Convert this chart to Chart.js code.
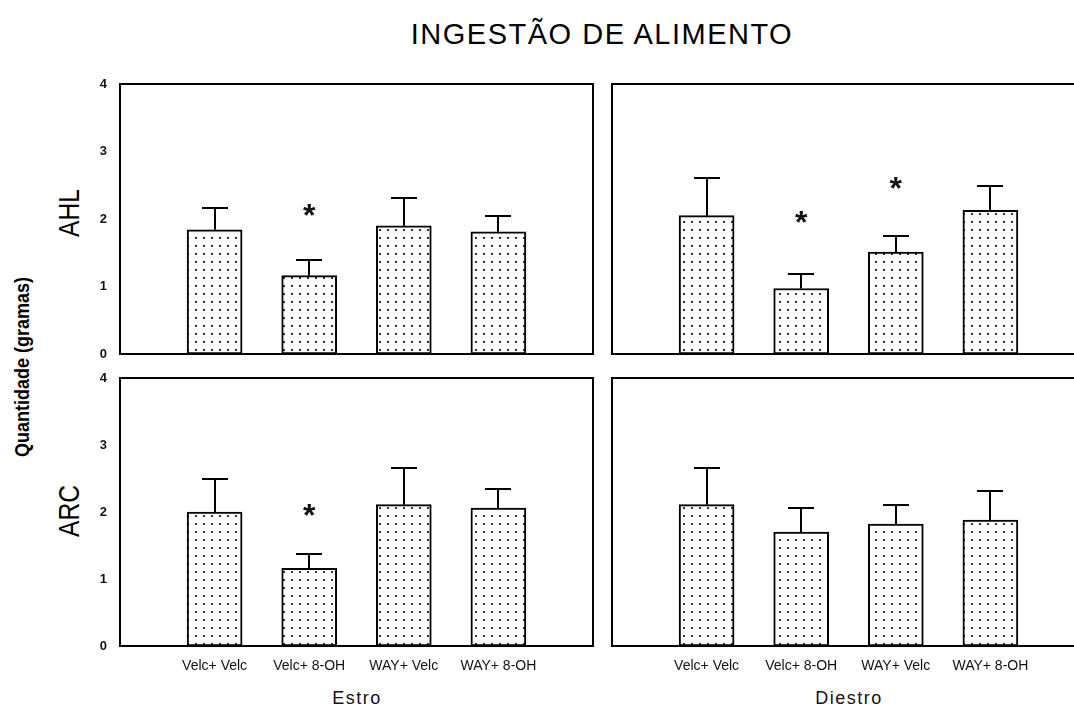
<!DOCTYPE html>
<html><head><meta charset="utf-8">
<script src="https://cdn.jsdelivr.net/npm/chart.js@4.4.0/dist/chart.umd.min.js"></script>
<style>
html,body{margin:0;padding:0;background:#fff;overflow:hidden;width:1074px;height:707px;}
#wrap{position:relative;width:1074px;height:707px;overflow:hidden;font-family:"Liberation Sans",Arial,sans-serif;color:#000;}
canvas{position:absolute;}
.t{position:absolute;white-space:nowrap;line-height:1;}
</style></head><body>
<div id="wrap">
<div class="t" style="left:602px;top:34px;font-size:29px;letter-spacing:1.5px;transform:translate(-50%,-50%);">INGESTÃO DE ALIMENTO</div>
<div class="t" style="left:69px;top:213px;font-size:30px;transform:translate(-50%,-50%) rotate(-90deg) scaleX(0.82);">AHL</div>
<div class="t" style="left:69px;top:511px;font-size:30px;transform:translate(-50%,-50%) rotate(-90deg) scaleX(0.82);">ARC</div>
<div class="t" style="left:22px;top:367px;font-size:20px;font-weight:bold;transform:translate(-50%,-50%) rotate(-90deg) scaleX(0.9);">Quantidade (gramas)</div>
<div class="t" style="left:357px;top:698px;font-size:18px;letter-spacing:1.5px;color:#111;transform:translate(-50%,-50%);">Estro</div>
<div class="t" style="left:849px;top:698px;font-size:18px;letter-spacing:1.5px;color:#111;transform:translate(-50%,-50%);">Diestro</div>
<canvas id="tl"></canvas>
<canvas id="tr"></canvas>
<canvas id="bl"></canvas>
<canvas id="br"></canvas>
</div>
<script>
// ---- data ----
const categories = ['Velc+ Velc', 'Velc+ 8-OH', 'WAY+ Velc', 'WAY+ 8-OH'];
const yTicks = [0, 1, 2, 3, 4];

const ahlEstroMean   = [1.84, 1.16, 1.90, 1.81];
const ahlEstroErrTop = [2.17, 1.39, 2.31, 2.04];
const ahlEstroStar   = [null, 2.13, null, null];

const ahlDiestroMean   = [2.05, 0.97, 1.51, 2.13];
const ahlDiestroErrTop = [2.61, 1.19, 1.75, 2.49];
const ahlDiestroStar   = [null, 2.03, 2.53, null];

const arcEstroMean   = [2.00, 1.16, 2.11, 2.06];
const arcEstroErrTop = [2.50, 1.37, 2.65, 2.35];
const arcEstroStar   = [null, 2.03, null, null];

const arcDiestroMean   = [2.11, 1.70, 1.82, 1.88];
const arcDiestroErrTop = [2.65, 2.06, 2.11, 2.32];
const arcDiestroStar   = [null, null, null, null];

// ---- rendering ----
const FAM = '"Liberation Sans", Arial, sans-serif';
const xLabels = [''].concat(categories, ['']);
const pad = a => [null].concat(a, [null]);

function dotPattern() {
  const c = document.createElement('canvas');
  c.width = 8; c.height = 8;
  const x = c.getContext('2d');
  x.fillStyle = '#fff'; x.fillRect(0, 0, 8, 8);
  x.fillStyle = '#333'; x.fillRect(3, 3, 2, 2);
  return x.createPattern(c, 'repeat');
}

function makePanel(id, box, mean, errTop, star, showY, showX) {
  const cv = document.getElementById(id);
  cv.width = box.w; cv.height = box.h;
  cv.style.left = box.x + 'px'; cv.style.top = box.y + 'px';
  cv.style.width = box.w + 'px'; cv.style.height = box.h + 'px';
  const m = pad(mean), e = pad(errTop), s = pad(star);
  const deco = {
    id: 'deco',
    afterDatasetsDraw(chart) {
      const ctx = chart.ctx, a = chart.chartArea, ys = chart.scales.y;
      const meta = chart.getDatasetMeta(0);
      ctx.save();
      ctx.strokeStyle = '#000'; ctx.lineWidth = 2; ctx.lineCap = 'butt';
      meta.data.forEach((el, i) => {
        if (e[i] == null) return;
        const x = Math.round(el.x);
        const y1 = ys.getPixelForValue(m[i]);
        const y2 = Math.round(ys.getPixelForValue(e[i]));
        ctx.beginPath();
        ctx.moveTo(x, y1); ctx.lineTo(x, y2);
        ctx.moveTo(x - 13, y2); ctx.lineTo(x + 13, y2);
        ctx.stroke();
      });
      ctx.fillStyle = '#111';
      ctx.font = 'bold 32px ' + FAM;
      ctx.textAlign = 'center'; ctx.textBaseline = 'alphabetic';
      const mt = ctx.measureText('*');
      const asc = mt.actualBoundingBoxAscent, desc = mt.actualBoundingBoxDescent;
      meta.data.forEach((el, i) => {
        if (s[i] == null) return;
        const c = ys.getPixelForValue(s[i]);
        ctx.fillText('*', el.x, c + (asc - desc) / 2);
      });
      ctx.lineWidth = 2; ctx.strokeStyle = '#000';
      ctx.strokeRect(a.left, a.top, a.right - a.left, a.bottom - a.top);
      ctx.restore();
    }
  };
  return new Chart(cv, {
    type: 'bar',
    data: {
      labels: xLabels,
      datasets: [{
        data: m,
        backgroundColor: dotPattern(),
        borderColor: '#000',
        borderWidth: 2,
        borderSkipped: false,
        barThickness: 55
      }]
    },
    options: {
      responsive: false, animation: false, devicePixelRatio: 1,
      layout: { padding: box.pad },
      plugins: { legend: { display: false }, tooltip: { enabled: false } },
      scales: {
        x: {
          type: 'category', offset: false, display: showX,
          grid: { display: false, drawTicks: false }, border: { display: false },
          ticks: { autoSkip: false, maxRotation: 0, minRotation: 0, padding: 12, color: '#111',
                   font: { family: FAM, size: 14 } },
          afterFit(sc) { if (showX) { sc.height = 40; sc.paddingLeft = 0; sc.paddingRight = 0; } }
        },
        y: {
          min: yTicks[0], max: yTicks[yTicks.length - 1], display: showY,
          grid: { display: false, drawTicks: false }, border: { display: false },
          afterBuildTicks(sc) { sc.ticks = yTicks.map(v => ({ value: v })); },
          ticks: { padding: 13, color: '#111', font: { family: FAM, size: 13, weight: 'bold' } },
          afterFit(sc) { if (showY) { sc.width = 40; sc.paddingTop = 0; sc.paddingBottom = 0; } }
        }
      }
    },
    plugins: [deco]
  });
}

makePanel('tl', { x: 80, y: 74, w: 520, h: 290, pad: { left: 0, right: 7, top: 10, bottom: 10 } },
  ahlEstroMean, ahlEstroErrTop, ahlEstroStar, true, false);
makePanel('tr', { x: 600, y: 74, w: 500, h: 290, pad: { left: 12, right: 15, top: 10, bottom: 10 } },
  ahlDiestroMean, ahlDiestroErrTop, ahlDiestroStar, false, false);
makePanel('bl', { x: 80, y: 368, w: 520, h: 339, pad: { left: 0, right: 7, top: 10, bottom: 21 } },
  arcEstroMean, arcEstroErrTop, arcEstroStar, true, true);
makePanel('br', { x: 600, y: 368, w: 500, h: 339, pad: { left: 12, right: 15, top: 10, bottom: 21 } },
  arcDiestroMean, arcDiestroErrTop, arcDiestroStar, false, true);
</script>
</body></html>
